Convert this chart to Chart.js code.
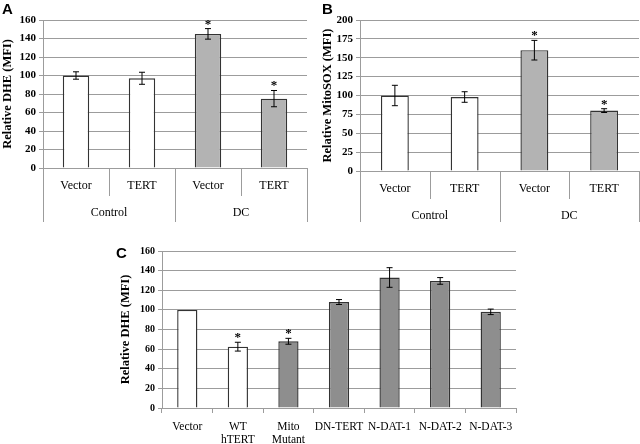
<!DOCTYPE html>
<html><head><meta charset="utf-8">
<script src="https://cdn.jsdelivr.net/npm/chart.js@4.4.1/dist/chart.umd.min.js"></script>
<style>
body{margin:0;background:#fff;width:640px;height:444px;overflow:hidden;position:relative;}
canvas{position:absolute;}
.lbl{position:absolute;font-weight:bold;font-size:15px;font-family:"Liberation Sans",Arial,sans-serif;line-height:1;color:#000;}
</style></head><body>
<canvas id="cA" width="320" height="225" style="left:0;top:0"></canvas>
<canvas id="cB" width="320" height="225" style="left:320px;top:0"></canvas>
<canvas id="cC" width="420" height="204" style="left:110px;top:240px"></canvas>
<div class="lbl" style="left:2px;top:1px">A</div>
<div class="lbl" style="left:322px;top:1px">B</div>
<div class="lbl" style="left:116px;top:245px">C</div>
<script>
// ---- data ----
const groupsAB = ['Control', 'DC'];
const catsAB = ['Vector', 'TERT', 'Vector', 'TERT'];
const valuesA = [100, 97, 145, 75];
const errorsA = [4, 6.5, 5.7, 8.8];
const sigA = [false, false, true, true];
const ticksA = {min: 0, max: 160, step: 20};

const valuesB = [100, 98, 160, 80];
const errorsB = [13.5, 7, 13, 2.5];
const sigB = [false, false, true, true];
const ticksB = {min: 0, max: 200, step: 25};

const catsC = ['Vector', ['WT', 'hTERT'], ['Mito', 'Mutant'], 'DN-TERT', 'N-DAT-1', 'N-DAT-2', 'N-DAT-3'];
const valuesC = [100, 62.5, 68, 108, 133, 129.5, 98];
const errorsC = [0, 4.5, 3, 2.5, 10, 3.4, 2.8];
const sigC = [false, true, true, false, false, false, false];
const ticksC = {min: 0, max: 160, step: 20};

// ---- styles ----
const WHITE = '#ffffff', GRAY_AB = '#b3b3b3', GRAY_C = '#8e8e8e';
const fillA = [WHITE, WHITE, GRAY_AB, GRAY_AB];
const fillC = [WHITE, WHITE, GRAY_C, GRAY_C, GRAY_C, GRAY_C, GRAY_C];
const LINE = '#9c9c9c';
const SERIF = '"Liberation Serif","Times New Roman",serif';

const errPlugin = {
  id: 'errbars',
  afterDatasetsDraw(chart, args, opts) {
    const ctx = chart.ctx, y = chart.scales.y, meta = chart.getDatasetMeta(0);
    ctx.save();
    opts.values.forEach((v, i) => {
      const bar = meta.data[i];
      const x = bar.x;
      const e = opts.errors[i];
      if (e > 0) {
        const yt = y.getPixelForValue(v + e), yb = y.getPixelForValue(v - e);
        ctx.strokeStyle = '#000'; ctx.lineWidth = 1;
        ctx.beginPath();
        ctx.moveTo(x, yt); ctx.lineTo(x, yb);
        ctx.moveTo(x - 3, yt); ctx.lineTo(x + 3, yt);
        ctx.moveTo(x - 3, yb); ctx.lineTo(x + 3, yb);
        ctx.stroke();
      }
      if (opts.sig[i]) {
        const yt = y.getPixelForValue(v + e);
        ctx.fillStyle = '#000';
        ctx.font = 'bold 13px ' + SERIF;
        ctx.textAlign = 'center'; ctx.textBaseline = 'alphabetic';
        ctx.fillText('*', x, yt - 1);
      }
    });
    ctx.restore();
  }
};

const tablePlugin = {
  id: 'table',
  afterDraw(chart, args, opts) {
    if (!opts.enabled) return;
    const ctx = chart.ctx, xs = chart.scales.x, ca = chart.chartArea;
    const n = opts.cats.length;
    const bottom = chart.height - 3;
    const b = [];
    for (let i = 0; i <= n; i++) {
      if (i === 0) b.push(ca.left);
      else if (i === n) b.push(ca.right);
      else b.push((xs.getPixelForValue(i - 1) + xs.getPixelForValue(i)) / 2);
    }
    ctx.save();
    ctx.strokeStyle = LINE; ctx.lineWidth = 1;
    ctx.beginPath();
    b.forEach((bx, i) => {
      const px = Math.round(bx) + 0.5;
      const full = (i === 0 || i === n || i === n / 2);
      ctx.moveTo(px, ca.bottom);
      ctx.lineTo(px, full ? bottom : ca.bottom + 28);
    });
    ctx.stroke();
    ctx.fillStyle = '#000';
    ctx.font = '12px ' + SERIF;
    ctx.textAlign = 'center'; ctx.textBaseline = 'middle';
    opts.cats.forEach((c, i) => ctx.fillText(c, xs.getPixelForValue(i), ca.bottom + 17.5));
    opts.groups.forEach((g, gi) => {
      const cx = (b[gi * 2] + b[gi * 2 + 2]) / 2;
      ctx.fillText(g, cx, ca.bottom + 44.5);
    });
    ctx.restore();
  }
};

function makeAB(id, values, errors, sig, tk, title, yWidth, pad, tickFont) {
  return new Chart(document.getElementById(id), {
    type: 'bar',
    data: {
      labels: catsAB,
      datasets: [{data: values, backgroundColor: fillA, borderColor: '#333333', borderWidth: 1.4,
                  barPercentage: 0.4, categoryPercentage: 1.0}]
    },
    options: {
      responsive: false, animation: false,
      layout: {padding: pad},
      plugins: {legend: {display: false}, tooltip: {enabled: false},
        errbars: {values, errors, sig},
        table: {enabled: true, cats: catsAB, groups: groupsAB}},
      scales: {
        x: {display: false},
        y: {
          min: tk.min, max: tk.max,
          afterFit(s) { s.width = yWidth; },
          ticks: {stepSize: tk.step, color: '#000', padding: 3, font: {family: SERIF, size: tickFont, weight: 'bold'}},
          grid: {color: LINE, lineWidth: 1, tickLength: 4},
          border: {display: true, color: LINE},
          title: {display: true, text: title, color: '#000', padding: {top: 0, bottom: 0},
                  font: {family: SERIF, size: 12.5, weight: 'bold'}}
        }
      }
    },
    plugins: [errPlugin, tablePlugin]
  });
}

makeAB('cA', valuesA, errorsA, sigA, ticksA, 'Relative DHE (MFI)', 43, {top: 20, right: 13, bottom: 57, left: 0}, 11);
makeAB('cB', valuesB, errorsB, sigB, ticksB, 'Relative MitoSOX (MFI)', 40, {top: 20, right: 1, bottom: 54, left: 0}, 11);

new Chart(document.getElementById('cC'), {
  type: 'bar',
  data: {
    labels: catsC,
    datasets: [{data: valuesC, backgroundColor: fillC, borderColor: '#333333', borderWidth: 1.4,
                barPercentage: 0.4, categoryPercentage: 1.0}]
  },
  options: {
    responsive: false, animation: false,
    layout: {padding: {top: 11, right: 14, bottom: 0, left: 0}},
    plugins: {legend: {display: false}, tooltip: {enabled: false},
      errbars: {values: valuesC, errors: errorsC, sig: sigC}},
    scales: {
      x: {
        afterFit(s) { s.height = 36; },
        ticks: {color: '#000', padding: 8, maxRotation: 0, autoSkip: false,
                font: {family: SERIF, size: 11.5, lineHeight: 1.1}},
        grid: {offset: true, drawOnChartArea: false, tickLength: 5, color: LINE},
        border: {display: true, color: LINE}
      },
      y: {
        min: ticksC.min, max: ticksC.max,
        afterFit(s) { s.width = 52; },
        ticks: {stepSize: ticksC.step, color: '#000', padding: 3, font: {family: SERIF, size: 10, weight: 'bold'}},
        grid: {color: LINE, lineWidth: 1, tickLength: 4},
        border: {display: true, color: LINE},
        title: {display: true, text: 'Relative DHE (MFI)', color: '#000', padding: {top: 8, bottom: 0},
                font: {family: SERIF, size: 12.5, weight: 'bold'}}
      }
    }
  },
  plugins: [errPlugin]
});
</script>
</body></html>
